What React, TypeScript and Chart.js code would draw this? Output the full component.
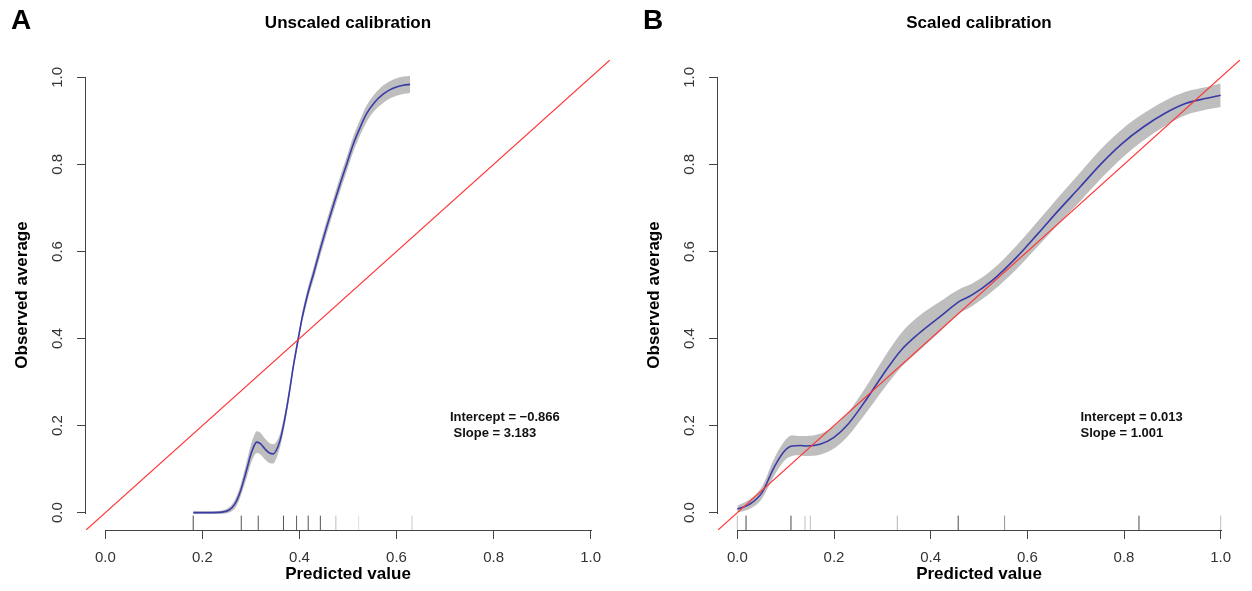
import React, { useEffect, useRef } from 'react';
import { Chart, registerables } from 'chart.js';

Chart.register(...registerables);

const FONT = "'Liberation Sans', Arial, Helvetica, sans-serif";
const AXIS = '#444444';
const BLUE = '#3a3aa8';
const RED = '#ff3535';
const BAND = '#bebebe';

// shared axis ticks
const xTicks = [0, 0.2, 0.4, 0.6, 0.8, 1.0];
const yTicks = [0, 0.2, 0.4, 0.6, 0.8, 1.0];
const identityLine = [-0.04, 1.04];

// Panel A: unscaled calibration
const unscaledX = [0.181, 0.21, 0.24, 0.255, 0.267, 0.277, 0.285, 0.292, 0.298, 0.305, 0.312, 0.32, 0.329, 0.338, 0.346, 0.353, 0.36, 0.367, 0.374, 0.381, 0.387, 0.393, 0.398, 0.405, 0.412, 0.42, 0.429, 0.442, 0.456, 0.47, 0.484, 0.498, 0.511, 0.525, 0.538, 0.555, 0.573, 0.587, 0.6, 0.614, 0.628];
const unscaledY = [0, 0, 0.001, 0.006, 0.02, 0.045, 0.074, 0.102, 0.127, 0.15, 0.162, 0.158, 0.146, 0.137, 0.135, 0.145, 0.166, 0.2, 0.242, 0.29, 0.334, 0.372, 0.403, 0.445, 0.48, 0.515, 0.549, 0.602, 0.656, 0.707, 0.756, 0.803, 0.847, 0.885, 0.916, 0.943, 0.962, 0.972, 0.978, 0.982, 0.984];
const unscaledLower = [-0.003, -0.003, -0.003, 0.0, 0.01, 0.032, 0.058, 0.083, 0.106, 0.127, 0.137, 0.133, 0.122, 0.114, 0.113, 0.126, 0.15, 0.186, 0.23, 0.279, 0.324, 0.362, 0.393, 0.434, 0.468, 0.502, 0.535, 0.587, 0.64, 0.691, 0.739, 0.786, 0.829, 0.867, 0.897, 0.924, 0.942, 0.952, 0.958, 0.962, 0.964];
const unscaledUpper = [0.003, 0.003, 0.005, 0.012, 0.03, 0.058, 0.09, 0.121, 0.148, 0.173, 0.187, 0.183, 0.17, 0.16, 0.157, 0.164, 0.182, 0.214, 0.254, 0.301, 0.344, 0.382, 0.413, 0.456, 0.492, 0.528, 0.563, 0.617, 0.672, 0.723, 0.773, 0.82, 0.865, 0.903, 0.935, 0.962, 0.982, 0.992, 0.998, 1.002, 1.004];
const unscaledRug = [0.181, 0.28, 0.315, 0.367, 0.394, 0.418, 0.443, 0.475, 0.522, 0.632];
const unscaledRugShade = [0.85, 0.8, 0.8, 0.8, 0.75, 0.8, 0.8, 0.3, 0.15, 0.25];
const unscaledStats = ['Intercept = \u22120.866', ' Slope = 3.183'];

// Panel B: scaled calibration
const scaledX = [0, 0.025, 0.051, 0.076, 0.098, 0.113, 0.13, 0.142, 0.171, 0.2, 0.229, 0.265, 0.302, 0.338, 0.375, 0.418, 0.462, 0.484, 0.527, 0.578, 0.622, 0.665, 0.709, 0.753, 0.796, 0.84, 0.884, 0.927, 0.971, 1.0];
const scaledY = [0.008, 0.019, 0.046, 0.104, 0.142, 0.153, 0.154, 0.153, 0.157, 0.173, 0.203, 0.257, 0.318, 0.372, 0.411, 0.449, 0.487, 0.499, 0.533, 0.587, 0.641, 0.695, 0.748, 0.802, 0.848, 0.886, 0.917, 0.94, 0.952, 0.959];
const scaledLower = [0.0, 0.008, 0.032, 0.084, 0.12, 0.13, 0.132, 0.13, 0.133, 0.147, 0.176, 0.227, 0.283, 0.333, 0.371, 0.414, 0.459, 0.473, 0.508, 0.56, 0.612, 0.664, 0.715, 0.768, 0.815, 0.855, 0.888, 0.913, 0.926, 0.932];
const scaledUpper = [0.016, 0.03, 0.06, 0.124, 0.165, 0.178, 0.176, 0.176, 0.181, 0.199, 0.23, 0.287, 0.353, 0.411, 0.451, 0.484, 0.515, 0.525, 0.558, 0.614, 0.67, 0.726, 0.781, 0.836, 0.881, 0.917, 0.946, 0.967, 0.978, 0.986];
const scaledRug = [0, 0.018, 0.111, 0.14, 0.151, 0.331, 0.457, 0.553, 0.831, 1.0];
const scaledRugShade = [0.3, 0.85, 0.85, 0.3, 0.3, 0.35, 0.85, 0.5, 0.85, 0.3];
const scaledStats = ['Intercept = 0.013', 'Slope = 1.001'];

const RUG_BOTTOM = -0.04;
const RUG_TOP = -0.007;

const decorPlugin = {
  id: 'decor',
  afterDraw(chart: any, _args: any, opts: any) {
    const { ctx, chartArea, scales } = chart;
    const xs = scales.x;
    const ys = scales.y;
    ctx.save();
    // R-style axis lines spanning first..last tick
    ctx.strokeStyle = AXIS;
    ctx.lineWidth = 1;
    const yb = Math.round(chartArea.bottom) + 0.5;
    const x0 = Math.round(xs.getPixelForValue(xTicks[0]));
    const x1 = Math.round(xs.getPixelForValue(xTicks[xTicks.length - 1])) + 1;
    ctx.beginPath();
    ctx.moveTo(x0, yb);
    ctx.lineTo(x1, yb);
    ctx.stroke();
    const xl = Math.round(chartArea.left) - 0.5;
    const y0 = Math.round(ys.getPixelForValue(yTicks[0])) + 1;
    const y1 = Math.round(ys.getPixelForValue(yTicks[yTicks.length - 1]));
    ctx.beginPath();
    ctx.moveTo(xl, y0);
    ctx.lineTo(xl, y1);
    ctx.stroke();

    // panel letter and title
    ctx.fillStyle = '#000';
    ctx.textBaseline = 'middle';
    ctx.textAlign = 'center';
    ctx.font = `bold 28px ${FONT}`;
    ctx.fillText(opts.letter, opts.letterX, 21);
    ctx.font = `bold 17px ${FONT}`;
    ctx.fillText(opts.title, (chartArea.left + chartArea.right) / 2, 23);

    // intercept / slope annotation
    ctx.font = `bold 13px ${FONT}`;
    ctx.textAlign = 'left';
    ctx.fillStyle = '#111';
    const sx = xs.getPixelForValue(opts.statX);
    opts.stats.forEach((s: string, i: number) => {
      ctx.fillText(s, sx, ys.getPixelForValue(opts.statY[i]));
    });
    ctx.restore();
  },
};

type PanelProps = {
  left: number;
  letter: string;
  letterX: number;
  title: string;
  xs: number[];
  ys: number[];
  lo: number[];
  hi: number[];
  rug: number[];
  rugShade: number[];
  stats: string[];
  yAxisWidth: number;
  padRight: number;
  yTitlePad: number;
};

function Panel(p: PanelProps) {
  const ref = useRef<HTMLCanvasElement | null>(null);
  useEffect(() => {
    if (!ref.current) return;
    const rugPts: any[] = [];
    p.rug.forEach((v) => {
      rugPts.push({ x: v, y: RUG_BOTTOM });
      rugPts.push({ x: v, y: RUG_TOP });
      rugPts.push({ x: v, y: null });
    });
    const tickFont = { size: 15, family: FONT };
    const titleFont = { size: 17, weight: 'bold' as const, family: FONT };
    const chart = new Chart(ref.current, {
      type: 'line',
      data: {
        datasets: [
          {
            label: 'ideal',
            data: identityLine.map((v) => ({ x: v, y: v })),
            borderColor: RED,
            borderWidth: 1.2,
            pointRadius: 0,
            order: 0,
          },
          {
            label: 'calibration',
            data: p.xs.map((x, i) => ({ x, y: p.ys[i] })),
            borderColor: BLUE,
            borderWidth: 1.6,
            pointRadius: 0,
            cubicInterpolationMode: 'monotone',
            order: 1,
          },
          {
            label: 'upper',
            data: p.xs.map((x, i) => ({ x, y: p.hi[i] })),
            borderColor: 'rgba(0,0,0,0)',
            borderWidth: 0,
            pointRadius: 0,
            cubicInterpolationMode: 'monotone',
            backgroundColor: BAND,
            fill: '+1',
            order: 2,
          },
          {
            label: 'lower',
            data: p.xs.map((x, i) => ({ x, y: p.lo[i] })),
            borderColor: 'rgba(0,0,0,0)',
            borderWidth: 0,
            pointRadius: 0,
            cubicInterpolationMode: 'monotone',
            fill: false,
            order: 3,
          },
          {
            label: 'rug',
            data: rugPts,
            borderWidth: 1,
            pointRadius: 0,
            spanGaps: false,
            borderColor: '#333',
            segment: {
              borderColor: (c: any) => `rgba(40,40,40,${p.rugShade[Math.floor(c.p0DataIndex / 3)]})`,
            },
            order: 4,
          },
        ] as any,
      },
      options: {
        animation: false,
        responsive: false,
        events: [],
        layout: { padding: { top: 60, right: p.padRight, bottom: 0, left: 0 } },
        plugins: {
          legend: { display: false },
          tooltip: { enabled: false },
          decor: {
            letter: p.letter,
            letterX: p.letterX,
            title: p.title,
            stats: p.stats,
            statX: 0.71,
            statY: [0.218, 0.182],
          },
        } as any,
        scales: {
          x: {
            type: 'linear',
            position: 'bottom',
            min: -0.04,
            max: 1.04,
            afterFit: (s: any) => {
              s.height = 61;
            },
            afterBuildTicks: (s: any) => {
              s.ticks = xTicks.map((v) => ({ value: v }));
            },
            ticks: {
              font: tickFont,
              color: '#333',
              padding: 10,
              autoSkip: false,
              minRotation: 0,
              maxRotation: 0,
              callback: (v: any) => Number(v).toFixed(1),
            },
            grid: { drawOnChartArea: false, drawTicks: true, tickLength: 9, color: AXIS, lineWidth: 1 },
            border: { display: false },
            title: {
              display: true,
              text: 'Predicted value',
              font: titleFont,
              color: '#000',
              padding: { top: 0, bottom: 6 },
            },
          },
          y: {
            type: 'linear',
            position: 'left',
            min: -0.04,
            max: 1.04,
            afterFit: (s: any) => {
              s.width = p.yAxisWidth;
            },
            afterBuildTicks: (s: any) => {
              s.ticks = yTicks.map((v) => ({ value: v }));
            },
            ticks: {
              font: tickFont,
              color: '#333',
              padding: 8.5,
              autoSkip: false,
              minRotation: 90,
              maxRotation: 90,
              crossAlign: 'center',
              callback: (v: any) => Number(v).toFixed(1),
            },
            grid: { drawOnChartArea: false, drawTicks: true, tickLength: 9, color: AXIS, lineWidth: 1 },
            border: { display: false },
            title: {
              display: true,
              text: 'Observed average',
              font: titleFont,
              color: '#000',
              padding: { top: p.yTitlePad, bottom: 0 },
            },
          },
        } as any,
      },
      plugins: [decorPlugin as any],
    });
    return () => chart.destroy();
  }, []);
  return (
    <canvas
      ref={ref}
      width={626}
      height={591}
      style={{ position: 'absolute', left: p.left, top: 0, width: 626, height: 591 }}
    />
  );
}

export default function App() {
  return (
    <div style={{ position: 'fixed', left: 0, top: 0, width: 1252, height: 591, background: '#fff', overflow: 'hidden' }}>
      <Panel
        left={0}
        letter="A"
        letterX={21}
        title="Unscaled calibration"
        xs={unscaledX}
        ys={unscaledY}
        lo={unscaledLower}
        hi={unscaledUpper}
        rug={unscaledRug}
        rugShade={unscaledRugShade}
        stats={unscaledStats}
        yAxisWidth={86}
        padRight={16}
        yTitlePad={12}
      />
      <Panel
        left={626}
        letter="B"
        letterX={27}
        title="Scaled calibration"
        xs={scaledX}
        ys={scaledY}
        lo={scaledLower}
        hi={scaledUpper}
        rug={scaledRug}
        rugShade={scaledRugShade}
        stats={scaledStats}
        yAxisWidth={92}
        padRight={12}
        yTitlePad={18}
      />
    </div>
  );
}
